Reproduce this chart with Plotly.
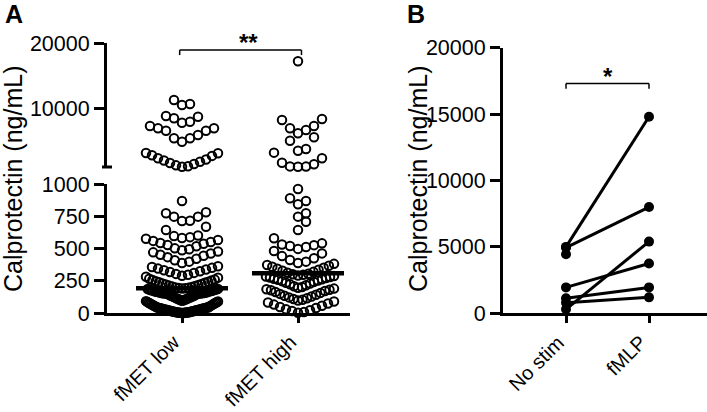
import plotly.graph_objects as go

# ---- data ----------------------------------------------------------------
groups_a = ["fMET low", "fMET high"]

fmet_low = [
    # upper segment (> 1000 ng/mL)
    11270, 10650, 10500, 8810, 8710, 8460, 7940, 7790, 7280, 6930, 6930,
    6560, 6560, 5900, 5400, 5400, 4880,
    3150, 3100, 2800, 2700, 2350, 2150, 2000, 1800, 1600, 1450, 1250, 1100, 1050,
    # lower segment
    868, 781, 773, 747, 747, 715, 713, 669,
    643, 601, 596, 588, 582, 575, 566, 559, 551, 543, 536, 527, 518,
    501, 494, 486, 477, 470, 461, 452, 444, 433, 421, 409, 398, 388,
    362, 357, 350, 344, 337, 331, 324, 318, 311, 303, 296, 289, 281, 274, 266, 259,
    256, 251, 247, 243, 238, 234, 229, 225, 221, 217, 213, 209, 205, 201, 198, 195, 193, 192,
    189, 187, 186, 183, 181, 180, 177, 175, 174, 171, 169, 168, 165, 163, 162, 159,
    158, 156, 155, 154, 153, 152, 151, 151, 150, 150,
    145, 141, 138, 134, 131, 128, 125, 122, 119, 116, 113, 110, 107, 104, 101, 98,
    95, 92, 89, 86, 83, 80, 77, 74, 71, 68, 65, 62, 59, 56, 53, 50,
    45, 44, 43, 41, 40, 39, 37, 36, 35, 33, 32, 31, 29, 28, 27, 25, 24, 23, 21, 20,
    19, 17, 16, 15, 13, 12, 11, 9, 8, 7, 6, 5, 4, 3, 3, 2, 1, 1, 0, 0,
]

fmet_high = [
    # upper segment (> 1000 ng/mL)
    17200, 8350, 8200, 7280, 6930, 6670, 6160, 5550, 5030, 3760, 3500, 3200,
    2330, 1660, 1410, 1090, 1060, 1040,
    # lower segment
    961, 889, 868, 843, 773, 747, 708, 643, 579,
    540, 531, 526, 520, 511, 497, 481, 462, 441, 425, 411,
    398, 388, 381, 372, 366, 358, 351, 343, 336, 327, 319, 312,
    304, 300, 296, 291, 287, 283, 279, 275, 271, 266, 262, 257, 252, 247, 241,
    235, 229, 222, 215, 208, 201, 195, 189, 184, 180,
    176, 170, 163, 156, 148, 141, 134, 128, 121, 115, 108, 102, 96, 89, 81,
    73, 65, 56, 47, 39, 30, 22, 15, 8, 2,
]

medians_a = [191, 308]

ticks_a_low = [0, 250, 500, 750, 1000]
ticks_a_up = [10000, 20000]
ticks_b = [0, 5000, 10000, 15000, 20000]

groups_b = ["No stim", "fMLP"]
no_stim = [5000, 4950, 300, 1950, 1130, 800, 4450]
fmlp = [14800, 8000, 5400, 3750, 1950, 1200, None]

# ---- geometry (pixels of the page) ---------------------------------------
W, H = 707, 412
FONT = "Arial, Liberation Sans, sans-serif"
BREAK = 1000

ax_a = (107, 350)        # px, panel A plot width
ax_b = (503, 707)
cat_a = (182, 298)       # px centres of categories
cat_b = (566, 649)
low_px = (313, 184)      # y px of 0 and 1000
up_px = (167, 43)        # y px of 1000 and 20000
b_px = (313.3, 47.7)     # y px of 0 and 20000

unit_a = cat_a[1] - cat_a[0]
unit_b = cat_b[1] - cat_b[0]


def fx(px):
    return px / W


def fy(py):
    return (H - py) / H


def height_px(v):
    if v > BREAK:
        return (v - BREAK) * (up_px[0] - up_px[1]) / (20000 - BREAK)
    return v * (low_px[0] - low_px[1]) / BREAK


def swarm(values, row_low=12, row_up=16, step=8, cap=36):
    """GraphPad-like scatter: rows of nearby values, lowest in the middle."""
    offsets = [0.0] * len(values)
    for upper in (False, True):
        idx = sorted([i for i, v in enumerate(values) if (v > BREAK) == upper],
                     key=lambda i: values[i])
        row_h = row_up if upper else row_low
        rows, cur, start = [], [], None
        for i in idx:
            p = height_px(values[i])
            if cur and p - start > row_h:
                rows.append(cur)
                cur = []
            if not cur:
                start = p
            cur.append(i)
        if cur:
            rows.append(cur)
        for row in rows:
            half = len(row) // 2
            s = step if half == 0 else min(step, cap / half)
            for k, i in enumerate(row):
                j = (k + 1) // 2
                offsets[i] = (1 if k % 2 else -1) * j * s
    return offsets


fig = go.Figure()

circle = dict(symbol="circle-open", size=8.5, color="black", line=dict(width=2, color="black"))

for gi, vals in enumerate([fmet_low, fmet_high]):
    offs = swarm(vals)
    for upper, yax in ((False, "y"), (True, "y2")):
        xs = [gi + o / unit_a for v, o in zip(vals, offs) if (v > BREAK) == upper]
        ys = [v for v in vals if (v > BREAK) == upper]
        fig.add_trace(go.Scatter(x=xs, y=ys, mode="markers", marker=circle,
                                 xaxis="x", yaxis=yax, cliponaxis=False,
                                 showlegend=False, hoverinfo="y"))
    half = 46 / unit_a
    fig.add_trace(go.Scatter(x=[gi - half, gi + half], y=[medians_a[gi]] * 2,
                             mode="lines", line=dict(color="black", width=4.5),
                             xaxis="x", yaxis="y", cliponaxis=False,
                             showlegend=False, hoverinfo="skip"))

for a, b in zip(no_stim, fmlp):
    fig.add_trace(go.Scatter(x=[0, 1], y=[a, b], mode="lines+markers",
                             line=dict(color="black", width=3),
                             marker=dict(color="black", size=10),
                             xaxis="x2", yaxis="y3", cliponaxis=False,
                             showlegend=False))

axis_style = dict(showline=True, linecolor="black", linewidth=3, ticks="outside",
                  tickcolor="black", tickwidth=2.5, showgrid=False, zeroline=False,
                  automargin=False, fixedrange=True,
                  tickfont=dict(family=FONT, size=21.5, color="black"))


def yticks(vals):
    return dict(tickvals=vals, ticktext=[str(v) for v in vals])


fig.update_layout(
    template="none",
    width=W, height=H, margin=dict(l=0, r=0, t=0, b=0, pad=0),
    paper_bgcolor="white", plot_bgcolor="white",
    xaxis=dict(axis_style, domain=[fx(ax_a[0]), fx(ax_a[1])],
               range=[(ax_a[0] - cat_a[0]) / unit_a, (ax_a[1] - cat_a[0]) / unit_a],
               tickvals=[0, 1], showticklabels=False, ticklen=7, anchor="y"),
    yaxis=dict(axis_style, domain=[fy(low_px[0]), fy(low_px[1])], range=[0, 1000],
               ticklen=10, anchor="x", **yticks(ticks_a_low)),
    yaxis2=dict(axis_style, domain=[fy(up_px[0]), fy(up_px[1])], range=[BREAK, 20000],
                ticklen=10, anchor="x", **yticks(ticks_a_up)),
    xaxis2=dict(axis_style, domain=[fx(ax_b[0]), fx(ax_b[1])],
                range=[(ax_b[0] - cat_b[0]) / unit_b, (ax_b[1] - cat_b[0]) / unit_b],
                tickvals=[0, 1], showticklabels=False, ticklen=7, anchor="y3"),
    yaxis3=dict(axis_style, domain=[fy(b_px[0]), fy(b_px[1])], range=[0, 20000],
                ticklen=10, anchor="x2", **yticks(ticks_b)),
)

# rotated category labels
for xr, names in (("x", groups_a), ("x2", groups_b)):
    for i, name in enumerate(names):
        fig.add_annotation(x=i, y=fy(328), xref=xr, yref="paper", text=name,
                           textangle=-45, xanchor="right", yanchor="top", xshift=5,
                           showarrow=False, font=dict(family=FONT, size=20, color="black"))

# axis break mark on the upper segment
fig.add_shape(type="line", xref="x domain", yref="y2 domain",
              x0=-5 / (ax_a[1] - ax_a[0]), x1=5 / (ax_a[1] - ax_a[0]), y0=0, y1=0,
              line=dict(color="black", width=3))

# significance brackets
thin = dict(color="black", width=1.5)
for x0, x1, yb, yt, xr, yr in ((-0.02, 1.03, 18150, 18930, "x", "y2"),
                               (0, 1, 16900, 17300, "x2", "y3")):
    fig.add_shape(type="line", xref=xr, yref=yr, x0=x0, x1=x1, y0=yt, y1=yt, line=thin)
    fig.add_shape(type="line", xref=xr, yref=yr, x0=x0, x1=x0, y0=yb, y1=yt, line=thin)
    fig.add_shape(type="line", xref=xr, yref=yr, x0=x1, x1=x1, y0=yb, y1=yt, line=thin)

fig.add_annotation(x=0.57, y=18930, xref="x", yref="y2", text="<b>**</b>", showarrow=False,
                   xanchor="center", yanchor="bottom", yshift=-8,
                   font=dict(family=FONT, size=24, color="black"))
fig.add_annotation(x=0.5, y=17300, xref="x2", yref="y3", text="<b>*</b>", showarrow=False,
                   xanchor="center", yanchor="bottom", yshift=-8,
                   font=dict(family=FONT, size=24, color="black"))

for xpx, letter in ((14, "A"), (416, "B")):
    fig.add_annotation(x=fx(xpx), y=fy(14), xref="paper", yref="paper", text=f"<b>{letter}</b>",
                       xanchor="center", yanchor="middle", showarrow=False,
                       font=dict(family=FONT, size=25, color="black"))

for xpx in (13, 418):
    fig.add_annotation(x=fx(xpx), y=fy(179), xref="paper", yref="paper",
                       text="Calprotectin (ng/mL)", textangle=-90, showarrow=False,
                       xanchor="center", yanchor="middle",
                       font=dict(family=FONT, size=25, color="black"))

fig.write_html("out.html", config={"displayModeBar": False},
               post_script="document.body.style.margin = '0';")
